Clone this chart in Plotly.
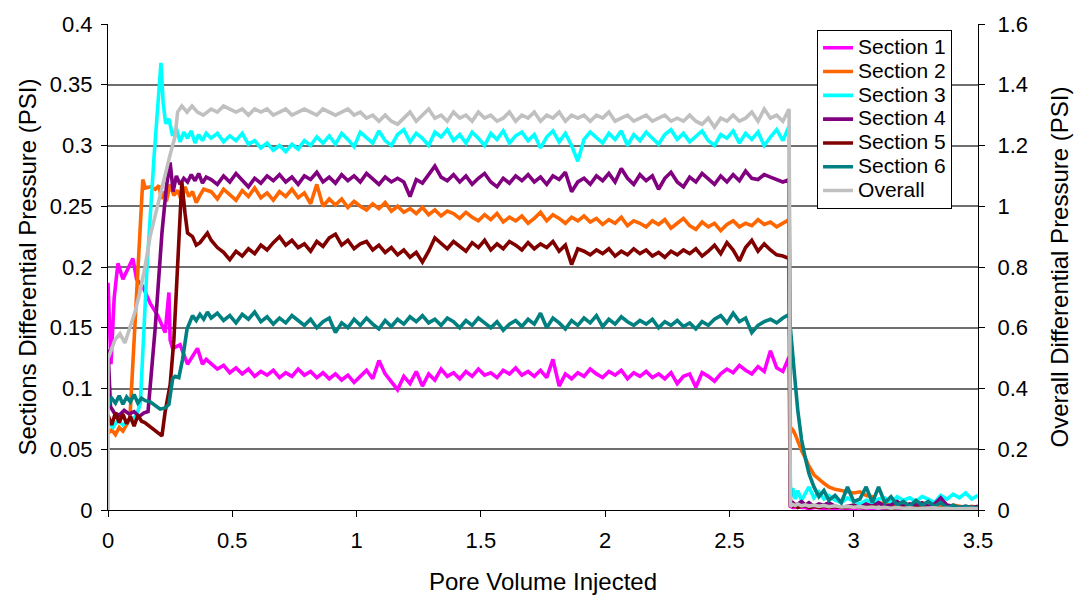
import numpy as np
import plotly.graph_objects as go

# ---------------- sampling grids (pore volumes injected) ----------------
# steady flow period, sampled every 0.025 PV
pv_flow = np.round(0.415 + 0.025 * np.arange(94), 3)
# after the injection stops
pv_tail = [2.745, 2.755, 2.765, 2.775, 2.79, 2.805, 2.82, 2.84, 2.86, 2.88,
           2.9, 2.925, 2.95, 2.975, 3.0, 3.025, 3.05, 3.075, 3.1, 3.125,
           3.15, 3.175, 3.2, 3.225, 3.25, 3.275, 3.3, 3.325, 3.35, 3.375,
           3.4, 3.425, 3.45, 3.475, 3.5]

# ---------------- Section 1 ----------------
s1_pv_start = [0, 0.012, 0.025, 0.04, 0.06, 0.075, 0.1, 0.115, 0.14, 0.17,
               0.2, 0.23, 0.245, 0.25, 0.26, 0.29, 0.32, 0.36, 0.38, 0.395]
s1_start = [0.187, 0.12, 0.175, 0.203, 0.19, 0.196, 0.207, 0.19, 0.184, 0.17,
            0.16, 0.146, 0.179, 0.14, 0.133, 0.136, 0.12, 0.133, 0.12, 0.124]
s1_flow = [0.120, 0.116, 0.119, 0.113, 0.117, 0.112, 0.116, 0.110, 0.114, 0.111,
           0.115, 0.109, 0.113, 0.110, 0.116, 0.111, 0.114, 0.109, 0.113, 0.108,
           0.112, 0.107, 0.111, 0.105, 0.110, 0.115, 0.108, 0.123, 0.112, 0.106,
           0.099, 0.110, 0.104, 0.114, 0.102, 0.112, 0.107, 0.116, 0.110, 0.113,
           0.108, 0.114, 0.110, 0.116, 0.111, 0.113, 0.109, 0.115, 0.112, 0.117,
           0.111, 0.114, 0.110, 0.115, 0.109, 0.124, 0.102, 0.112, 0.108, 0.113,
           0.110, 0.116, 0.112, 0.109, 0.114, 0.111, 0.115, 0.108, 0.113, 0.110,
           0.114, 0.109, 0.112, 0.108, 0.113, 0.104, 0.110, 0.112, 0.101, 0.113,
           0.110, 0.106, 0.112, 0.116, 0.113, 0.119, 0.115, 0.112, 0.118, 0.114,
           0.131, 0.117, 0.114, 0.126]
s1_tail = [0.003, 0.002, 0.002, 0.003, 0.002, 0.002, 0.001, 0.002, 0.002, 0.001,
           0.002, 0.001, 0.002, 0.001, 0.001, 0.002, 0.001, 0.001, 0.002, 0.001,
           0.001, 0.001, 0.002, 0.001, 0.001, 0.001, 0.002, 0.001, 0.001, 0.001,
           0.001, 0.002, 0.001, 0.001, 0.001]

# ---------------- Section 2 ----------------
s2_pv_start = [0, 0.015, 0.03, 0.045, 0.06, 0.075, 0.088, 0.14, 0.15, 0.17,
               0.19, 0.205, 0.215, 0.225, 0.235, 0.25, 0.265, 0.28, 0.295, 0.31,
               0.325, 0.34, 0.355, 0.37, 0.385]
s2_start = [0.063, 0.066, 0.062, 0.068, 0.065, 0.070, 0.075, 0.272, 0.265, 0.266,
            0.264, 0.267, 0.256, 0.262, 0.254, 0.268, 0.259, 0.263, 0.255, 0.266,
            0.258, 0.262, 0.253, 0.259, 0.264]
s2_flow = [0.262, 0.256, 0.264, 0.259, 0.255, 0.263, 0.258, 0.265, 0.257, 0.261,
           0.255, 0.262, 0.258, 0.264, 0.257, 0.261, 0.252, 0.268, 0.250, 0.256,
           0.251, 0.256, 0.249, 0.254, 0.250, 0.247, 0.252, 0.248, 0.253, 0.246,
           0.250, 0.245, 0.248, 0.244, 0.249, 0.243, 0.247, 0.242, 0.246, 0.244,
           0.240, 0.245, 0.241, 0.238, 0.243, 0.239, 0.244, 0.237, 0.241, 0.238,
           0.242, 0.236, 0.240, 0.245, 0.238, 0.243, 0.240, 0.236, 0.241, 0.238,
           0.242, 0.237, 0.240, 0.235, 0.239, 0.236, 0.241, 0.234, 0.238, 0.236,
           0.233, 0.238, 0.235, 0.239, 0.232, 0.236, 0.240, 0.234, 0.231, 0.237,
           0.233, 0.236, 0.230, 0.235, 0.238, 0.233, 0.236, 0.234, 0.239, 0.235,
           0.237, 0.233, 0.236, 0.239]
s2_tail = [0.068, 0.066, 0.062, 0.056, 0.049, 0.043, 0.036, 0.029, 0.025, 0.022,
           0.019, 0.017, 0.016, 0.015, 0.014, 0.015, 0.012, 0.011, 0.006, 0.005,
           0.005, 0.004, 0.004, 0.003, 0.003, 0.003, 0.003, 0.002, 0.003, 0.002,
           0.004, 0.003, 0.002, 0.003, 0.002]

# ---------------- Section 3 ----------------
s3_pv_start = [0, 0.02, 0.04, 0.06, 0.08, 0.10, 0.115, 0.13, 0.157, 0.185,
               0.213, 0.222, 0.232, 0.245, 0.26, 0.275, 0.29, 0.305, 0.32, 0.335,
               0.35, 0.365, 0.38, 0.395]
s3_start = [0.072, 0.068, 0.074, 0.070, 0.073, 0.075, 0.078, 0.088, 0.20, 0.29,
            0.368, 0.335, 0.318, 0.322, 0.308, 0.314, 0.303, 0.311, 0.306, 0.312,
            0.302, 0.309, 0.304, 0.310]
s3_flow = [0.306, 0.310, 0.303, 0.308, 0.304, 0.310, 0.301, 0.304, 0.298, 0.302,
           0.296, 0.300, 0.295, 0.301, 0.297, 0.304, 0.300, 0.307, 0.302, 0.308,
           0.301, 0.310, 0.305, 0.299, 0.311, 0.306, 0.302, 0.312, 0.304, 0.300,
           0.309, 0.313, 0.303, 0.310, 0.306, 0.300, 0.311, 0.307, 0.313, 0.304,
           0.309, 0.302, 0.311, 0.306, 0.300, 0.310, 0.305, 0.312, 0.302, 0.308,
           0.311, 0.304, 0.309, 0.298, 0.307, 0.312, 0.303, 0.310, 0.300, 0.287,
           0.305, 0.311, 0.306, 0.302, 0.310, 0.305, 0.312, 0.300, 0.309, 0.304,
           0.311, 0.306, 0.301, 0.309, 0.313, 0.305, 0.310, 0.303, 0.308, 0.312,
           0.304, 0.300, 0.309, 0.306, 0.312, 0.302, 0.310, 0.305, 0.311, 0.300,
           0.307, 0.313, 0.304, 0.316]
s3_tail = [0.010, 0.018, 0.009, 0.016, 0.008, 0.013, 0.019, 0.010, 0.015, 0.009,
           0.012, 0.008, 0.006, 0.010, 0.007, 0.005, 0.008, 0.006, 0.009, 0.010,
           0.006, 0.011, 0.008, 0.010, 0.007, 0.011, 0.009, 0.006, 0.012, 0.009,
           0.013, 0.010, 0.014, 0.009, 0.012]

# ---------------- Section 4 ----------------
s4_pv_start = [0, 0.01, 0.025, 0.045, 0.065, 0.085, 0.105, 0.125, 0.145, 0.161,
               0.19, 0.217, 0.235, 0.25, 0.262, 0.275, 0.29, 0.305, 0.32, 0.335,
               0.35, 0.365, 0.38, 0.395]
s4_start = [0.132, 0.085, 0.080, 0.078, 0.082, 0.079, 0.081, 0.077, 0.080, 0.081,
            0.15, 0.228, 0.266, 0.286, 0.262, 0.275, 0.268, 0.273, 0.270, 0.276,
            0.271, 0.277, 0.269, 0.274]
s4_flow = [0.272, 0.268, 0.275, 0.270, 0.277, 0.271, 0.266, 0.273, 0.269, 0.275,
           0.271, 0.276, 0.270, 0.274, 0.268, 0.275, 0.272, 0.278, 0.270, 0.274,
           0.269, 0.276, 0.271, 0.275, 0.270, 0.277, 0.272, 0.268, 0.274, 0.270,
           0.273, 0.270, 0.258, 0.272, 0.269, 0.276, 0.283, 0.274, 0.271, 0.276,
           0.270, 0.275, 0.268, 0.273, 0.277, 0.270, 0.266, 0.273, 0.269, 0.275,
           0.271, 0.276, 0.270, 0.274, 0.268, 0.275, 0.272, 0.278, 0.262, 0.270,
           0.273, 0.268, 0.275, 0.271, 0.277, 0.270, 0.281, 0.273, 0.268, 0.276,
           0.271, 0.275, 0.264, 0.273, 0.278, 0.270, 0.266, 0.274, 0.270, 0.277,
           0.272, 0.268, 0.275, 0.270, 0.276, 0.271, 0.279, 0.273, 0.272, 0.276,
           0.274, 0.272, 0.270, 0.272]
s4_tail = [0.004, 0.006, 0.004, 0.005, 0.007, 0.004, 0.006, 0.003, 0.005, 0.004,
           0.006, 0.003, 0.002, 0.003, 0.004, 0.002, 0.005, 0.003, 0.006, 0.003,
           0.004, 0.007, 0.003, 0.005, 0.004, 0.006, 0.003, 0.005, 0.010, 0.004,
           0.003, 0.002, 0.003, 0.002, 0.003]

# ---------------- Section 5 ----------------
s5_pv_start = [0, 0.015, 0.03, 0.045, 0.06, 0.075, 0.09, 0.105, 0.12, 0.135,
               0.148, 0.217, 0.23, 0.25, 0.265, 0.28, 0.297, 0.31, 0.32, 0.34,
               0.355, 0.37, 0.385, 0.40]
s5_start = [0.078, 0.070, 0.080, 0.072, 0.079, 0.071, 0.077, 0.069, 0.078, 0.073,
            0.072, 0.061, 0.081, 0.103, 0.14, 0.205, 0.27, 0.244, 0.228, 0.225,
            0.218, 0.220, 0.224, 0.228]
s5_flow = [0.222, 0.216, 0.212, 0.206, 0.213, 0.209, 0.215, 0.211, 0.218, 0.214,
           0.220, 0.225, 0.218, 0.222, 0.216, 0.219, 0.213, 0.221, 0.217, 0.224,
           0.227, 0.218, 0.222, 0.215, 0.219, 0.221, 0.214, 0.218, 0.212, 0.216,
           0.210, 0.214, 0.208, 0.212, 0.204, 0.213, 0.224, 0.219, 0.215, 0.221,
           0.217, 0.213, 0.220, 0.216, 0.222, 0.214, 0.219, 0.215, 0.221, 0.218,
           0.214, 0.220, 0.215, 0.219, 0.216, 0.221, 0.213, 0.218, 0.202, 0.215,
           0.213, 0.210, 0.214, 0.211, 0.215, 0.209, 0.213, 0.210, 0.215, 0.211,
           0.214, 0.209, 0.212, 0.208, 0.213, 0.210, 0.214, 0.211, 0.215, 0.209,
           0.213, 0.218, 0.211, 0.220, 0.214, 0.205, 0.216, 0.222, 0.213, 0.219,
           0.214, 0.210, 0.209, 0.207]
s5_tail = [0.004, 0.003, 0.004, 0.002, 0.003, 0.004, 0.002, 0.003, 0.002, 0.003,
           0.002, 0.003, 0.002, 0.002, 0.003, 0.002, 0.002, 0.003, 0.002, 0.002,
           0.001, 0.002, 0.002, 0.001, 0.002, 0.002, 0.001, 0.002, 0.001, 0.002,
           0.001, 0.001, 0.002, 0.001, 0.001]

# ---------------- Section 6 ----------------
s6_pv_start = [0, 0.015, 0.03, 0.045, 0.06, 0.075, 0.09, 0.105, 0.12, 0.135,
               0.15, 0.17, 0.19, 0.21, 0.23, 0.245, 0.26, 0.27, 0.285, 0.3,
               0.318, 0.34, 0.355, 0.37, 0.385, 0.40]
s6_start = [0.085, 0.092, 0.088, 0.094, 0.087, 0.093, 0.089, 0.095, 0.088, 0.092,
            0.090, 0.089, 0.086, 0.083, 0.084, 0.087, 0.108, 0.110, 0.109, 0.124,
            0.149, 0.160, 0.156, 0.161, 0.157, 0.163]
s6_flow = [0.158, 0.162, 0.156, 0.160, 0.154, 0.161, 0.157, 0.163, 0.155, 0.159,
           0.153, 0.158, 0.154, 0.160, 0.156, 0.152, 0.157, 0.150, 0.155, 0.158,
           0.146, 0.154, 0.150, 0.157, 0.152, 0.158, 0.153, 0.149, 0.156, 0.151,
           0.157, 0.153, 0.159, 0.155, 0.160, 0.154, 0.157, 0.152, 0.158, 0.155,
           0.150, 0.156, 0.152, 0.158, 0.154, 0.150, 0.155, 0.148, 0.153, 0.156,
           0.151, 0.157, 0.153, 0.162, 0.150, 0.158, 0.154, 0.149, 0.156, 0.152,
           0.158, 0.154, 0.160, 0.151, 0.157, 0.153, 0.159, 0.155, 0.152, 0.156,
           0.153, 0.157, 0.150, 0.155, 0.152, 0.156, 0.151, 0.154, 0.149, 0.155,
           0.152, 0.157, 0.160, 0.154, 0.162, 0.155, 0.158, 0.146, 0.152, 0.155,
           0.157, 0.154, 0.158, 0.161]
s6_tail = [0.150, 0.122, 0.104, 0.082, 0.058, 0.043, 0.030, 0.019, 0.011, 0.016,
           0.008, 0.012, 0.006, 0.019, 0.007, 0.009, 0.019, 0.006, 0.019, 0.006,
           0.011, 0.004, 0.007, 0.003, 0.008, 0.004, 0.007, 0.003, 0.006, 0.002,
           0.004, 0.002, 0.003, 0.002, 0.002]

# ---------------- Overall (secondary axis) ----------------
ov_pv_start = [0, 0, 0.01, 0.028, 0.048, 0.068, 0.088, 0.108, 0.129, 0.149,
               0.169, 0.195, 0.221, 0.25, 0.27, 0.28, 0.297, 0.318, 0.338, 0.36,
               0.383]
ov_start = [0.0, 0.50, 0.52, 0.56, 0.58, 0.55, 0.60, 0.65, 0.72, 0.80,
            0.90, 0.99, 1.08, 1.17, 1.23, 1.31, 1.33, 1.31, 1.33, 1.31,
            1.30]
ov_flow = [1.32, 1.31, 1.33, 1.32, 1.31, 1.32, 1.30, 1.32, 1.31, 1.32,
           1.30, 1.31, 1.32, 1.30, 1.31, 1.32, 1.31, 1.30, 1.32, 1.31,
           1.30, 1.31, 1.32, 1.30, 1.31, 1.29, 1.30, 1.28, 1.30, 1.28,
           1.27, 1.29, 1.31, 1.28, 1.30, 1.32, 1.29, 1.30, 1.28, 1.31,
           1.29, 1.30, 1.28, 1.31, 1.29, 1.30, 1.28, 1.29, 1.31, 1.28,
           1.30, 1.29, 1.31, 1.28, 1.30, 1.29, 1.31, 1.28, 1.30, 1.29,
           1.30, 1.28, 1.30, 1.29, 1.31, 1.28, 1.29, 1.30, 1.28, 1.29,
           1.30, 1.28, 1.29, 1.30, 1.28, 1.29, 1.28, 1.30, 1.28, 1.27,
           1.29, 1.26, 1.29, 1.28, 1.30, 1.28, 1.29, 1.31, 1.28, 1.32,
           1.29, 1.30, 1.28, 1.32]
ov_tail = [0.012, 0.018, 0.015, 0.020, 0.014, 0.017, 0.013, 0.016, 0.012, 0.015,
           0.011, 0.014, 0.010, 0.012, 0.009, 0.011, 0.008, 0.010, 0.007, 0.009,
           0.006, 0.008, 0.006, 0.007, 0.005, 0.006, 0.005, 0.007, 0.005, 0.006,
           0.004, 0.005, 0.004, 0.005, 0.004]

sections = [
    ("Section 1", "#FF00FF", s1_pv_start, s1_start, s1_flow, s1_tail),
    ("Section 2", "#FF6600", s2_pv_start, s2_start, s2_flow, s2_tail),
    ("Section 3", "#00FFFF", s3_pv_start, s3_start, s3_flow, s3_tail),
    ("Section 4", "#800080", s4_pv_start, s4_start, s4_flow, s4_tail),
    ("Section 5", "#800000", s5_pv_start, s5_start, s5_flow, s5_tail),
    ("Section 6", "#008080", s6_pv_start, s6_start, s6_flow, s6_tail),
]

FONT = "Liberation Sans, Arial, sans-serif"
LEGEND_TEXT = "<span style='font-size:21px'>{}</span>"
LINE_W = 3.6

fig = go.Figure()
for name, color, pv_start, start, flow, tail in sections:
    fig.add_trace(go.Scatter(
        x=list(pv_start) + list(pv_flow) + list(pv_tail),
        y=list(start) + list(flow) + list(tail),
        mode="lines", name=LEGEND_TEXT.format(name),
        line=dict(color=color, width=LINE_W),
    ))

fig.add_trace(go.Scatter(
    x=list(ov_pv_start) + list(pv_flow) + list(pv_tail),
    y=list(ov_start) + list(ov_flow) + list(ov_tail),
    mode="lines", name=LEGEND_TEXT.format("Overall"), yaxis="y2",
    line=dict(color="#C0C0C0", width=LINE_W),
))

grid_color = "#6E6E6E"
fig.update_layout(
    width=1081, height=604,
    margin=dict(l=108, r=103, t=18, b=94),
    paper_bgcolor="white", plot_bgcolor="white",
    font=dict(family=FONT, size=22, color="black"),
    showlegend=True,
    legend=dict(
        x=0.815, y=0.988, xanchor="left", yanchor="top",
        bgcolor="white", bordercolor="black", borderwidth=1,
        font=dict(family=FONT, size=16, color="black"),
        tracegroupgap=0, itemwidth=30,
    ),
    xaxis=dict(
        range=[0, 3.5], dtick=0.5, tick0=0,
        showgrid=False, zeroline=False,
        showline=True, linecolor="black", linewidth=1,
        ticks="outside", ticklen=6, tickcolor="black",
        ticklabelstandoff=5,
        title=dict(text="Pore Volume Injected", standoff=20,
                   font=dict(family=FONT, size=24)),
        tickfont=dict(family=FONT, size=22),
    ),
    yaxis=dict(
        range=[0, 0.4], dtick=0.05, tick0=0,
        showgrid=True, gridcolor=grid_color, gridwidth=1.5,
        zeroline=False,
        showline=True, linecolor="black", linewidth=1,
        ticks="outside", ticklen=6, tickcolor="black",
        ticklabelstandoff=4,
        title=dict(text="Sections Differential Pressure (PSI)", standoff=6,
                   font=dict(family=FONT, size=24)),
        tickfont=dict(family=FONT, size=22),
    ),
    yaxis2=dict(
        range=[0, 1.6], dtick=0.2, tick0=0,
        overlaying="y", side="right",
        showgrid=False, zeroline=False,
        showline=True, linecolor="black", linewidth=1,
        ticks="outside", ticklen=6, tickcolor="black",
        ticklabelstandoff=8,
        title=dict(text="Overall Differential Pressure (PSI)", standoff=24,
                   font=dict(family=FONT, size=24)),
        tickfont=dict(family=FONT, size=22),
    ),
)

fig.write_html("out.html")
